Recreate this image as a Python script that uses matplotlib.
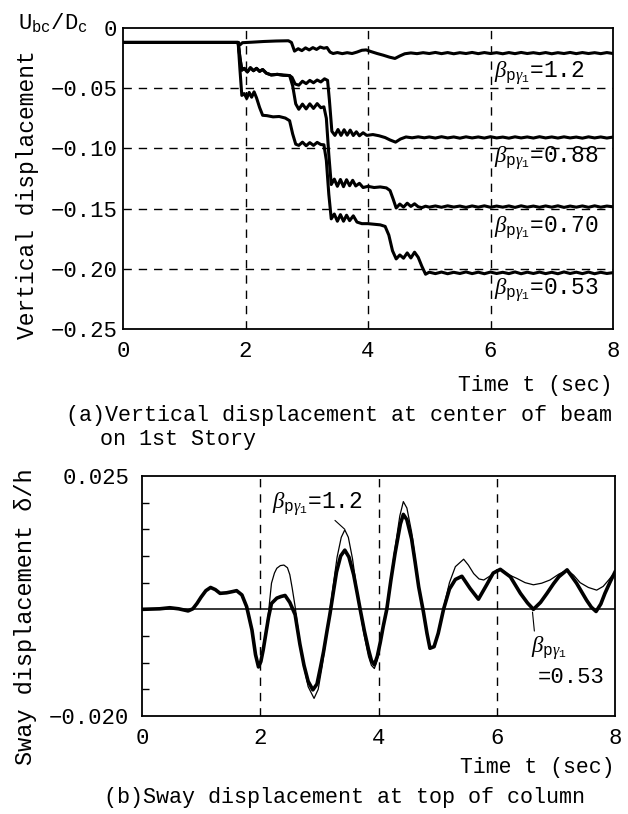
import matplotlib
matplotlib.use("Agg")
import matplotlib.pyplot as plt
from matplotlib.ticker import MultipleLocator

plt.rcParams['font.family'] = ['Liberation Mono', 'DejaVu Sans Mono']
plt.rcParams['mathtext.fontset'] = 'custom'
plt.rcParams['mathtext.rm'] = 'Liberation Mono'
plt.rcParams['mathtext.it'] = 'Liberation Serif:italic'
plt.rcParams['mathtext.bf'] = 'Liberation Mono:bold'

# %% (a) vertical displacement at center of beam, 1st story
t12 = [0.0, 1.88, 1.91, 1.95, 2.1, 2.3, 2.5, 2.7, 2.75, 2.8,
       2.86, 2.92, 2.98, 3.04, 3.1, 3.16, 3.22, 3.28, 3.33, 3.38,
       3.43, 3.5, 3.58, 3.66, 3.74, 3.82, 3.9, 3.97, 4.05, 4.15,
       4.25, 4.35, 4.44, 4.52, 4.6, 4.7, 4.8, 4.9]
v12 = [-0.012, -0.012, -0.014, -0.0122, -0.0118, -0.0112, -0.0108, -0.0106, -0.012, -0.0192,
       -0.0172, -0.0188, -0.0165, -0.0182, -0.0163, -0.0178, -0.0158, -0.0168, -0.0162, -0.0200,
       -0.0212, -0.0204, -0.0213, -0.0205, -0.0212, -0.0200, -0.0185, -0.0182, -0.0196, -0.0212,
       -0.0226, -0.0242, -0.0253, -0.0232, -0.0214, -0.0207, -0.0213, -0.0205]

t88 = [0.0, 1.88, 1.91, 1.94, 1.98, 2.03, 2.08, 2.13, 2.18, 2.23,
       2.28, 2.34, 2.42, 2.52, 2.62, 2.72, 2.76, 2.81, 2.87, 2.93,
       2.99, 3.05, 3.11, 3.17, 3.23, 3.29, 3.34, 3.37, 3.41, 3.46,
       3.51, 3.56, 3.61, 3.66, 3.71, 3.76, 3.81, 3.86, 3.92, 3.98,
       4.08, 4.18, 4.28, 4.36, 4.45, 4.53, 4.62, 4.72, 4.82, 4.92]
v88 = [-0.012, -0.012, -0.025, -0.035, -0.0335, -0.0365, -0.033, -0.0355, -0.0335, -0.036,
       -0.0345, -0.0375, -0.039, -0.0385, -0.0392, -0.0395, -0.041, -0.0465, -0.0475, -0.0442,
       -0.0462, -0.0435, -0.0455, -0.0432, -0.0448, -0.0422, -0.0435, -0.060, -0.0858, -0.0892,
       -0.0843, -0.0892, -0.0845, -0.089, -0.0848, -0.0893, -0.0862, -0.0895, -0.087, -0.0892,
       -0.0885, -0.0895, -0.091, -0.093, -0.0948, -0.0922, -0.0905, -0.0912, -0.0904, -0.0912]

t70 = [0.0, 1.88, 1.91, 1.94, 1.98, 2.03, 2.08, 2.13, 2.18, 2.23,
       2.28, 2.34, 2.42, 2.52, 2.62, 2.72, 2.77, 2.82, 2.87, 2.93,
       2.99, 3.05, 3.11, 3.17, 3.23, 3.28, 3.32, 3.36, 3.40, 3.45,
       3.50, 3.55, 3.60, 3.65, 3.70, 3.75, 3.80, 3.86, 3.92, 4.00,
       4.10, 4.20, 4.30, 4.36, 4.41, 4.46, 4.52, 4.58, 4.64, 4.70,
       4.76, 4.82, 4.88, 4.94]
v70 = [-0.012, -0.012, -0.025, -0.035, -0.0335, -0.0365, -0.033, -0.0355, -0.0335, -0.036,
       -0.0345, -0.0375, -0.039, -0.0385, -0.0392, -0.0395, -0.048, -0.063, -0.0675, -0.0632,
       -0.0672, -0.063, -0.0668, -0.0628, -0.0662, -0.0655, -0.075, -0.105, -0.130, -0.1255,
       -0.1315, -0.1258, -0.1318, -0.126, -0.131, -0.1265, -0.1312, -0.129, -0.1325, -0.1315,
       -0.1325, -0.132, -0.1328, -0.135, -0.142, -0.1495, -0.1462, -0.1488, -0.1455, -0.1482,
       -0.146, -0.1485, -0.1492, -0.148]

t53 = [0.0, 1.88, 1.91, 1.94, 1.98, 2.02, 2.06, 2.10, 2.14, 2.18,
       2.23, 2.28, 2.35, 2.45, 2.55, 2.65, 2.72, 2.77, 2.82, 2.87,
       2.93, 2.99, 3.05, 3.11, 3.17, 3.23, 3.28, 3.32, 3.36, 3.40,
       3.45, 3.50, 3.55, 3.60, 3.65, 3.70, 3.76, 3.82, 3.90, 4.00,
       4.10, 4.20, 4.28, 4.34, 4.40, 4.46, 4.52, 4.58, 4.64, 4.70,
       4.76, 4.82, 4.88, 4.94]
v53 = [-0.012, -0.012, -0.035, -0.056, -0.0545, -0.0585, -0.0535, -0.0575, -0.053, -0.058,
       -0.066, -0.0725, -0.0728, -0.0738, -0.0735, -0.0748, -0.077, -0.088, -0.0965, -0.0975,
       -0.0948, -0.0978, -0.0952, -0.0975, -0.095, -0.0968, -0.097, -0.110, -0.138, -0.1585,
       -0.1545, -0.1605, -0.155, -0.1605, -0.1555, -0.160, -0.156, -0.1612, -0.1625, -0.1625,
       -0.163, -0.1635, -0.1648, -0.172, -0.185, -0.1918, -0.1885, -0.1912, -0.1868, -0.191,
       -0.1862, -0.1905, -0.198, -0.2045]

# steady wavy tails, 5 - 8 sec
t_tail = [5.0, 5.1, 5.2, 5.3, 5.4, 5.5, 5.6, 5.7, 5.8, 5.9,
          6.0, 6.1, 6.2, 6.3, 6.4, 6.5, 6.6, 6.7, 6.8, 6.9,
          7.0, 7.1, 7.2, 7.3, 7.4, 7.5, 7.6, 7.7, 7.8, 7.9, 8.0]
tail12 = [-0.0212, -0.0203, -0.0213, -0.0204, -0.0214, -0.0205, -0.0212, -0.0203, -0.0213, -0.0204,
          -0.0212, -0.0205, -0.0214, -0.0204, -0.0213, -0.0203, -0.0212, -0.0205, -0.0213, -0.0204,
          -0.0214, -0.0205, -0.0212, -0.0203, -0.0213, -0.0204, -0.0212, -0.0205, -0.0213, -0.0204, -0.0212]
tail88 = [-0.0905, -0.0914, -0.0903, -0.0913, -0.0905, -0.0915, -0.0904, -0.0913, -0.0905, -0.0914,
          -0.0903, -0.0913, -0.0906, -0.0915, -0.0904, -0.0913, -0.0905, -0.0914, -0.0903, -0.0913,
          -0.0905, -0.0914, -0.0904, -0.0913, -0.0906, -0.0915, -0.0904, -0.0913, -0.0905, -0.0914, -0.0906]
tail70 = [-0.1488, -0.1478, -0.1489, -0.1477, -0.1487, -0.1479, -0.1490, -0.1478, -0.1488, -0.1477,
          -0.1489, -0.1479, -0.1488, -0.1478, -0.1490, -0.1477, -0.1488, -0.1479, -0.1489, -0.1478,
          -0.1488, -0.1477, -0.1490, -0.1479, -0.1488, -0.1478, -0.1489, -0.1477, -0.1488, -0.1479, -0.1485]
tail53 = [-0.2028, -0.2040, -0.2027, -0.2041, -0.2029, -0.2039, -0.2026, -0.2040, -0.2028, -0.2041,
          -0.2027, -0.2039, -0.2029, -0.2040, -0.2026, -0.2041, -0.2028, -0.2039, -0.2027, -0.2040,
          -0.2029, -0.2041, -0.2026, -0.2039, -0.2028, -0.2040, -0.2027, -0.2041, -0.2029, -0.2039, -0.2032]

labels_a = ["1.2", "0.88", "0.70", "0.53"]
label_a_y = [-0.0375, -0.108, -0.166, -0.218]

# %% (b) sway displacement at top of column
ts53 = [0.0, 0.3, 0.47, 0.62, 0.78, 0.86, 0.93, 1.0, 1.08, 1.16,
        1.24, 1.32, 1.43, 1.52, 1.60, 1.69, 1.77, 1.86, 1.92, 1.97,
        2.01, 2.05, 2.10, 2.14, 2.19, 2.28, 2.35, 2.42, 2.50, 2.59,
        2.67, 2.74, 2.81, 2.89, 2.96, 3.02, 3.07, 3.13, 3.18, 3.24,
        3.29, 3.36, 3.43, 3.50, 3.58, 3.64, 3.69, 3.76, 3.83, 3.88,
        3.93, 3.98, 4.03, 4.08, 4.14, 4.21, 4.28, 4.37, 4.42, 4.48,
        4.56, 4.62, 4.68, 4.76, 4.82, 4.87, 4.94, 5.01, 5.10, 5.20,
        5.30, 5.41, 5.55, 5.69, 5.83, 5.94, 6.06, 6.23, 6.40, 6.52,
        6.62, 6.74, 6.85, 6.96, 7.05, 7.19, 7.35, 7.52, 7.60, 7.68,
        7.76, 7.83, 7.92, 8.0]
vs53 = [0.0, 0.0001, 0.0003, 0.0001, -0.0003, 0.0001, 0.0011, 0.0023, 0.0035, 0.0041,
        0.0037, 0.0030, 0.0031, 0.0033, 0.0035, 0.0027, 0.0005, -0.0039, -0.0085, -0.0108,
        -0.0098, -0.0076, -0.0042, -0.0015, 0.0011, 0.0021, 0.0024, 0.0026, 0.0013, -0.0010,
        -0.0065, -0.0105, -0.0135, -0.0151, -0.0140, -0.0108, -0.0080, -0.0040, -0.0008, 0.0035,
        0.0070, 0.0100, 0.0111, 0.0098, 0.0065, 0.0030, 0.0000, -0.0040, -0.0075, -0.0096,
        -0.0104, -0.0088, -0.0062, -0.0032, 0.0000, 0.0055, 0.0105, 0.0160, 0.0178, 0.0168,
        0.0132, 0.0088, 0.0042, -0.0005, -0.0045, -0.0073, -0.0070, -0.0045, 0.0000, 0.0038,
        0.0056, 0.0062, 0.0039, 0.0019, 0.0046, 0.0068, 0.0075, 0.0061, 0.0030, 0.0012,
        0.0000, 0.0013, 0.0030, 0.0048, 0.0061, 0.0074, 0.0049, 0.0017, 0.0004, -0.0004,
        0.0010, 0.0030, 0.0052, 0.0070]

ts12 = [0.0, 0.3, 0.47, 0.62, 0.78, 0.86, 0.93, 1.0, 1.08, 1.16,
        1.24, 1.32, 1.43, 1.52, 1.60, 1.69, 1.77, 1.86, 1.92, 1.97,
        2.01, 2.05, 2.10, 2.14, 2.19, 2.24, 2.28, 2.34, 2.40, 2.46,
        2.50, 2.54, 2.59, 2.66, 2.74, 2.81, 2.91, 2.98, 3.05, 3.12,
        3.18, 3.24, 3.30, 3.37, 3.43, 3.49, 3.56, 3.63, 3.69, 3.76,
        3.83, 3.88, 3.93, 3.98, 4.03, 4.08, 4.14, 4.21, 4.28, 4.36,
        4.42, 4.48, 4.56, 4.62, 4.68, 4.76, 4.82, 4.87, 4.94, 5.01,
        5.10, 5.20, 5.30, 5.44, 5.52, 5.61, 5.70, 5.78, 5.88, 6.00,
        6.08, 6.20, 6.34, 6.48, 6.62, 6.76, 6.90, 7.05, 7.19, 7.30,
        7.41, 7.55, 7.69, 7.80, 7.90, 8.0]
vs12 = [0.0, 0.0001, 0.0003, 0.0001, -0.0003, 0.0001, 0.0011, 0.0023, 0.0035, 0.0041,
        0.0037, 0.0030, 0.0031, 0.0033, 0.0035, 0.0027, 0.0005, -0.0039, -0.0085, -0.0108,
        -0.0098, -0.0076, -0.0040, -0.0005, 0.0049, 0.0068, 0.0077, 0.0082, 0.0083, 0.0078,
        0.0065, 0.0040, 0.0005, -0.0055, -0.0108, -0.0145, -0.0167, -0.0150, -0.0105, -0.0050,
        0.0000, 0.0050, 0.0098, 0.0135, 0.0149, 0.0135, 0.0095, 0.0040, -0.0005, -0.0050,
        -0.0088, -0.0105, -0.0111, -0.0095, -0.0065, -0.0033, 0.0000, 0.0060, 0.0115, 0.0175,
        0.0202, 0.0190, 0.0145, 0.0095, 0.0045, -0.0005, -0.0045, -0.0073, -0.0070, -0.0045,
        0.0003, 0.0050, 0.0080, 0.0094, 0.0083, 0.0067, 0.0057, 0.0055, 0.0062, 0.0074,
        0.0075, 0.0065, 0.0058, 0.0050, 0.0046, 0.0049, 0.0055, 0.0066, 0.0074, 0.0064,
        0.0050, 0.0041, 0.0036, 0.0043, 0.0056, 0.0070]

W, H = 628, 814
def fx(p): return p / W
def fy(p): return 1 - p / H

BETA = r"$\beta_{\mathrm{p}\gamma_1}$"

fig = plt.figure(figsize=(6.28, 8.14), dpi=100)

# ---------- (a)
ax1 = fig.add_axes([fx(123), fy(329), fx(613) - fx(123), fy(28) - fy(329)])
for tt, vv, tl, tv in [(t12, v12, t_tail, tail12), (t88, v88, t_tail, tail88),
                       (t70, v70, t_tail, tail70), (t53, v53, t_tail, tail53)]:
    ax1.plot(tt + tl, vv + tv, color='black', lw=2.2, solid_joinstyle='round')
for x in [2, 4, 6]:
    ax1.axvline(x, color='black', lw=1.0, ls=(0, (6, 5)))
for y in [-0.05, -0.10, -0.15, -0.20]:
    ax1.axhline(y, color='black', lw=1.0, ls=(0, (6, 5)))
ax1.set_xlim(0, 8)
ax1.set_ylim(-0.25, 0)
ax1.set_xticks([0, 2, 4, 6, 8])
ax1.set_yticks([0, -0.05, -0.10, -0.15, -0.20, -0.25])
ax1.set_yticklabels(['0', '−0.05', '−0.10', '−0.15', '−0.20', '−0.25'])
ax1.tick_params(length=0, labelsize=16)
ax1.tick_params(axis='y', pad=4)
ax1.tick_params(axis='x', pad=9)
for sp in ax1.spines.values():
    sp.set_linewidth(1.3)
for lab, y in zip(labels_a, label_a_y):
    ax1.text(6.05, y, BETA + "=" + lab, fontsize=16.5, va='center', ha='left')

fig.text(fx(18), fy(22), r"U$_{\mathrm{bc}}$/D$_{\mathrm{c}}$", fontsize=16, ha='left', va='center')
fig.text(fx(28), fy(195), "Vertical displacement", rotation=90, fontsize=16.5, ha='center', va='center')
fig.text(fx(613), fy(385), "Time t (sec)", fontsize=15.5, ha='right', va='center')
fig.text(fx(66), fy(416), "(a)Vertical displacement at center of beam", fontsize=15.7, ha='left', va='center')
fig.text(fx(100), fy(439), "on 1st Story", fontsize=15.7, ha='left', va='center')

# ---------- (b)
ax2 = fig.add_axes([fx(142), fy(716), fx(615) - fx(142), fy(476) - fy(716)])
ax2.plot(ts12, vs12, color='black', lw=0.9)
ax2.plot(ts53, vs53, color='black', lw=2.6, solid_joinstyle='round')
ax2.axhline(0, color='black', lw=1.1)
for x in [2, 4, 6]:
    ax2.axvline(x, color='black', lw=1.0, ls=(0, (6, 5)))
ax2.set_xlim(0, 8)
ax2.set_ylim(-0.020, 0.025)
ax2.set_xticks([0, 2, 4, 6, 8])
ax2.set_yticks([-0.020, 0.025])
ax2.set_yticklabels(['−0.020', '0.025'])
ax2.yaxis.set_minor_locator(MultipleLocator(0.005))
ax2.tick_params(which='major', length=0, labelsize=16)
ax2.tick_params(axis='y', which='major', pad=9)
ax2.tick_params(axis='x', pad=9)
ax2.tick_params(axis='y', which='minor', direction='in', length=5, width=1.0)
ax2.tick_params(axis='x', which='minor', length=0)
for sp in ax2.spines.values():
    sp.set_linewidth(1.3)

ax2.annotate(BETA + "=1.2", xy=(3.43, 0.0150), xytext=(2.2, 0.0198),
             fontsize=16.5, ha='left', va='center',
             arrowprops=dict(arrowstyle='-', color='black', lw=0.8, shrinkA=0, shrinkB=0,
                             relpos=(0.66, 0.0)))
ax2.annotate(BETA, xy=(6.6, 0.0), xytext=(6.58, -0.0072),
             fontsize=16.5, ha='left', va='center',
             arrowprops=dict(arrowstyle='-', color='black', lw=0.8, shrinkA=0, shrinkB=2,
                             relpos=(0.1, 1.0)))
ax2.text(6.7, -0.0128, "=0.53", fontsize=16, ha='left', va='center')

fig.text(fx(26), fy(617), "Sway displacement δ/h", rotation=90, fontsize=17, ha='center', va='center')
fig.text(fx(615), fy(767), "Time t (sec)", fontsize=15.5, ha='right', va='center')
fig.text(fx(104), fy(798), "(b)Sway displacement at top of column", fontsize=15.7, ha='left', va='center')

fig.savefig("out.png", dpi=100)
